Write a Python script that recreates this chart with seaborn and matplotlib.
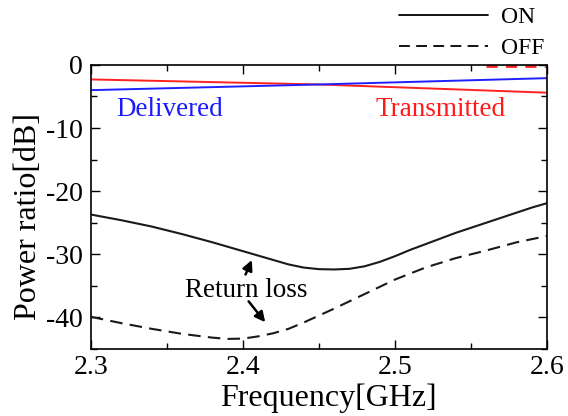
import matplotlib
matplotlib.use("Agg")
import matplotlib.pyplot as plt
import seaborn as sns
import pandas as pd
from matplotlib.ticker import MultipleLocator
from matplotlib.lines import Line2D

sns.set_theme(style="ticks")
plt.rcParams['font.family'] = ['Liberation Serif', 'DejaVu Serif']
plt.rcParams['text.color'] = 'black'
plt.rcParams['axes.labelcolor'] = 'black'

# Data
freq_on = [2.30, 2.32, 2.34, 2.36, 2.38, 2.40, 2.42, 2.43, 2.44, 2.45, 2.46, 2.47, 2.48,
           2.49, 2.50, 2.51, 2.52, 2.53, 2.54, 2.55, 2.56, 2.57, 2.58, 2.59, 2.60]
on_rl = [-23.7, -24.6, -25.6, -26.8, -28.1, -29.5, -30.9, -31.6, -32.1, -32.35, -32.4, -32.3, -31.9,
         -31.2, -30.3, -29.3, -28.4, -27.5, -26.6, -25.8, -25.0, -24.2, -23.4, -22.6, -21.9]
freq_off = [2.30, 2.32, 2.34, 2.36, 2.38, 2.39, 2.40, 2.41, 2.42, 2.43, 2.44, 2.45, 2.46,
            2.48, 2.50, 2.52, 2.54, 2.56, 2.58, 2.60]
off_rl = [-39.9, -40.9, -41.8, -42.6, -43.2, -43.4, -43.35, -43.0, -42.5, -41.8, -40.8, -39.7, -38.6,
          -36.3, -34.0, -32.1, -30.6, -29.4, -28.1, -27.1]

freq_pt = [2.30, 2.45, 2.60]
delivered = [-4.0, -3.1, -2.1]
transmitted = [-2.3, -3.1, -4.4]
freq_toff = [2.56, 2.60]
transmitted_off = [-0.15, -0.15]

x_ticks = [2.3, 2.4, 2.5, 2.6]
y_ticks = [0, -10, -20, -30, -40]

fig = plt.figure(figsize=(5.68, 4.16), dpi=100)
ax = fig.add_axes([0.160, 0.161, 0.803, 0.683])

lw = 1.5
dash = (0, (6, 3.5))
sns.lineplot(x=freq_pt, y=transmitted, color='#ff2020', lw=1.4, ax=ax)
sns.lineplot(x=freq_pt, y=delivered, color='#2020ff', lw=1.4, ax=ax)
sns.lineplot(x=freq_toff, y=transmitted_off, color='#ff2020', lw=2.0, ax=ax, linestyle=(0, (4, 3)))
sns.lineplot(x=freq_on, y=on_rl, color='#1a1a1a', lw=lw, ax=ax)
sns.lineplot(x=freq_off, y=off_rl, color='#1a1a1a', lw=lw, ax=ax, linestyle=dash)

ax.set_xlim(2.3, 2.6)
ax.set_ylim(-45, 0)
ax.set_xticks(x_ticks)
ax.set_xticklabels([str(v) for v in x_ticks])
ax.set_yticks(y_ticks)
ax.set_yticklabels([str(v) for v in y_ticks])
ax.xaxis.set_minor_locator(MultipleLocator(0.05))
ax.yaxis.set_minor_locator(MultipleLocator(5))
ax.tick_params(which='both', direction='in', top=True, right=True, colors='black',
               labelsize=20, width=1.0)
ax.tick_params(which='major', length=6.5)
ax.tick_params(which='minor', length=4.3)
ax.tick_params(axis='x', pad=4)
ax.tick_params(axis='y', pad=6)
for s in ax.spines.values():
    s.set_color('black')
    s.set_linewidth(1.2)

ax.set_xlabel('Frequency[GHz]', fontsize=23, labelpad=3)
ax.set_ylabel('Power ratio[dB]', fontsize=23, labelpad=2)
ax.xaxis.label.set_x(0.52)
ax.yaxis.label.set_y(0.465)

ax.text(2.317, -7.0, 'Delivered', color='#1a1aff', fontsize=19.5, va='center', ha='left')
ax.text(2.487, -7.0, 'Transmitted', color='#ff1a1a', fontsize=19.5, va='center', ha='left')
ax.text(2.4022, -35.8, 'Return loss', color='black', fontsize=19.5, va='center', ha='center')
ax.annotate('', xy=(2.4066, -30.5), xytext=(2.401, -33.6),
            arrowprops=dict(arrowstyle='-|>', color='black', lw=1.8, mutation_scale=15))
ax.annotate('', xy=(2.4158, -41.1), xytext=(2.4026, -37.1),
            arrowprops=dict(arrowstyle='-|>', color='black', lw=1.8, mutation_scale=15))

handles = [Line2D([], [], color='black', lw=1.3),
           Line2D([], [], color='black', lw=1.3, linestyle=dash)]
fig.legend(handles, ['ON', 'OFF'], loc='upper left', bbox_to_anchor=(0.695, 0.995),
           frameon=False, fontsize=17, handlelength=3.75, handletextpad=0.55,
           labelspacing=0.38, borderpad=0.2, borderaxespad=0)

fig.savefig('out.png', dpi=100)
